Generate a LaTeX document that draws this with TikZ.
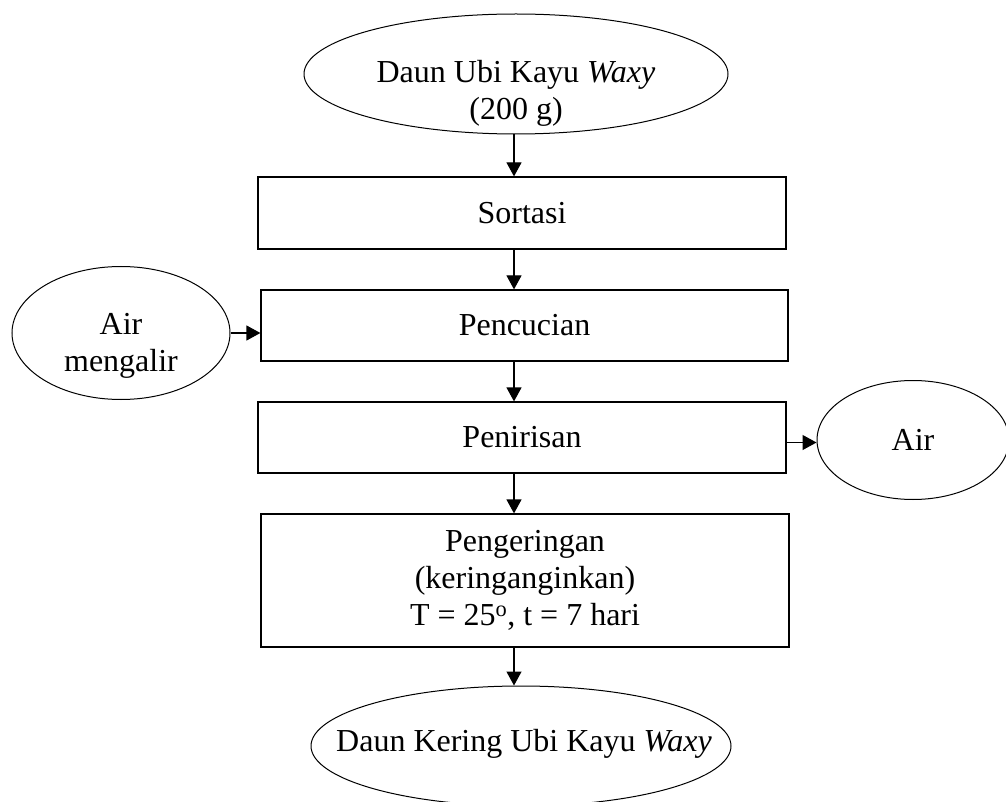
\documentclass[tikz,border=0pt]{standalone}
\usepackage{fontspec}
\setmainfont{Liberation Serif}
\usetikzlibrary{shapes.geometric,arrows.meta}
\begin{document}
\begin{tikzpicture}[x=1pt,y=-1pt,
  every node/.style={font=\fontsize{32}{37}\selectfont, align=center, inner sep=0pt},
  every label/.style={font=\fontsize{32}{37}\selectfont, align=center, inner sep=0pt},
  procbox/.style={draw, line width=1.2pt, rectangle},
  term/.style={draw, line width=1pt, ellipse},
  arr/.style={line width=1.2pt, -{Triangle[length=14pt,width=15pt]}}]
\useasboundingbox (0,0) rectangle (1006,802);
\node[term, minimum width=424, minimum height=120,
  label={[yshift=-19pt]center:{Daun Ubi Kayu \textit{Waxy}\\(200 g)}}] (top) at (516,74) {};
\node[procbox, minimum width=528, minimum height=72] (sortasi) at (522,213) {Sortasi};
\node[procbox, minimum width=527, minimum height=71] (cuci) at (524.5,325.5) {Pencucian};
\node[procbox, minimum width=528, minimum height=71] (tiris) at (522,437.5) {Penirisan};
\node[procbox, minimum width=528, minimum height=133] (kering) at (525,580.5) {Pengeringan\\(keringanginkan)\\T = 25\textsuperscript{o}, t = 7 hari};
\node[term, minimum width=420, minimum height=120,
  label={[xshift=3pt,yshift=2pt]center:{Daun Kering Ubi Kayu \textit{Waxy}}}] (hasil) at (521,746) {};
\node[term, minimum width=218, minimum height=133,
  label={[yshift=-13pt]center:{Air\\mengalir}}] (airin) at (121,333) {};
\node[term, minimum width=192, minimum height=119] (airout) at (913,440) {Air};
\draw[arr] ([xshift=-2pt]top.south) -- ([xshift=-2pt]top.south |- sortasi.north);
\draw[arr] ([xshift=-2pt]top.south |- sortasi.south) -- ([xshift=-2pt]top.south |- cuci.north);
\draw[arr] ([xshift=-2pt]top.south |- cuci.south) -- ([xshift=-2pt]top.south |- tiris.north);
\draw[arr] ([xshift=-2pt]top.south |- tiris.south) -- ([xshift=-2pt]top.south |- kering.north);
\draw[arr] ([xshift=-2pt]top.south |- kering.south) -- ([xshift=-2pt]top.south |- hasil.north);
\draw[arr] (airin.east) -- (airin.east -| cuci.west);
\draw[arr] ([yshift=-5pt]tiris.east) -- ([yshift=-5pt]tiris.east -| airout.west);
\end{tikzpicture}
\end{document}
